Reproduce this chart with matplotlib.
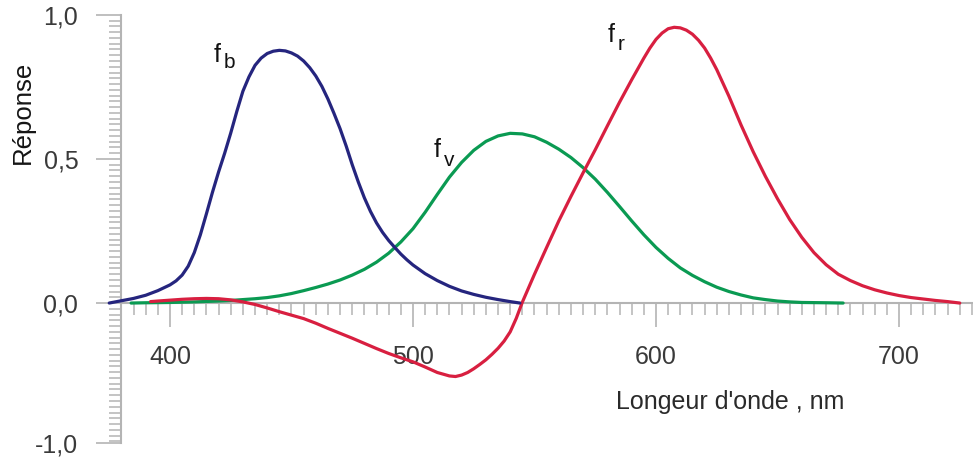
import numpy as np
import matplotlib
matplotlib.use("Agg")
from matplotlib import pyplot as plt
from matplotlib.ticker import FixedLocator, FixedFormatter

plt.rcParams['font.family'] = ['Liberation Sans', 'DejaVu Sans']

# courbe bleue f_b
wl_b = [375, 380, 385, 390, 395, 400, 402.5, 405, 407.5, 410, 412.5, 415,
        417.5, 420, 422.5, 425, 427.5, 430, 432.5, 435, 437.5, 440, 442.5,
        445, 447.5, 450, 452.5, 455, 457.5, 460, 462.5, 465, 467.5, 470,
        472.5, 475, 477.5, 480, 482.5, 485, 487.5, 490, 492.5, 495, 497.5,
        500, 505, 510, 515, 520, 525, 530, 535, 540, 544]
f_b = [0.0, 0.008, 0.016, 0.027, 0.043, 0.063, 0.077, 0.097, 0.128, 0.175, 0.237,
       0.31, 0.385, 0.455, 0.52, 0.59, 0.665, 0.735, 0.785, 0.825, 0.85, 0.866,
       0.874, 0.877, 0.875, 0.868, 0.857, 0.84, 0.817, 0.788, 0.752, 0.708,
       0.658, 0.605, 0.545, 0.48, 0.42, 0.365, 0.318, 0.278, 0.245, 0.217,
       0.193, 0.17, 0.15, 0.132, 0.102, 0.078, 0.058, 0.042, 0.03, 0.02, 0.012,
       0.005, 0.0]

# courbe verte f_v
wl_v = [384, 390, 400, 410, 420, 425, 430, 435, 440, 445, 450, 455, 460, 465,
        470, 475, 480, 485, 490, 495, 500, 505, 510, 515, 520, 525, 530, 535,
        540, 545, 550, 555, 560, 565, 570, 575, 580, 585, 590, 595, 600, 605,
        610, 615, 620, 625, 630, 635, 640, 645, 650, 655, 660, 670, 677]
f_v = [0.0, 0.001, 0.002, 0.004, 0.007, 0.009, 0.012, 0.015, 0.019, 0.025,
       0.033, 0.043, 0.054, 0.066, 0.08, 0.097, 0.117, 0.142, 0.173, 0.212,
       0.258, 0.315, 0.377, 0.437, 0.488, 0.53, 0.561, 0.58, 0.589, 0.587,
       0.577, 0.558, 0.534, 0.505, 0.47, 0.43, 0.384, 0.335, 0.285, 0.237,
       0.193, 0.155, 0.122, 0.096, 0.074, 0.055, 0.04, 0.028, 0.018, 0.012,
       0.007, 0.004, 0.002, 0.001, 0.0]

# courbe rouge f_r
wl_r = [392, 395, 400, 405, 410, 415, 420, 425, 430, 435, 440, 445, 450, 455,
        460, 465, 470, 475, 480, 485, 490, 495, 500, 505, 510, 515, 517.5, 520,
        522.5, 525, 527.5, 530, 532.5, 535, 537.5, 540, 542.5, 545, 550, 555,
        560, 565, 570, 575, 580, 585, 590, 595, 597.5, 600, 602.5, 605, 607.5,
        610, 612.5, 615, 617.5, 620, 622.5, 625, 630, 635, 640, 645, 650, 655,
        660, 665, 670, 675, 680, 685, 690, 695, 700, 705, 710, 715, 720, 725]
f_r = [0.005, 0.007, 0.01, 0.013, 0.015, 0.016, 0.015, 0.011, 0.004, -0.005,
       -0.017, -0.03, -0.042, -0.054, -0.07, -0.088, -0.105, -0.122, -0.14,
       -0.158, -0.175, -0.19, -0.204, -0.222, -0.241, -0.253, -0.255, -0.25,
       -0.241, -0.228, -0.213, -0.197, -0.178, -0.157, -0.132, -0.1, -0.053,
       0.003, 0.1, 0.193, 0.285, 0.37, 0.452, 0.532, 0.615, 0.697, 0.775, 0.85,
       0.885, 0.915, 0.937, 0.952, 0.957, 0.955, 0.947, 0.933, 0.912, 0.885,
       0.85, 0.81, 0.718, 0.618, 0.525, 0.44, 0.362, 0.29, 0.228, 0.175, 0.133,
       0.1, 0.078, 0.06, 0.046, 0.035, 0.026, 0.019, 0.014, 0.009, 0.005, 0.0]

y_ticks = [1.0, 0.5, 0.0, -0.485]
y_labels = ['1,0', '0,5', '0,0', '-1,0']
x_ticks = [400, 500, 600, 700]

W, H = 973, 463
fig = plt.figure(figsize=(W / 100, H / 100), dpi=100)
ax = fig.add_axes([100 / W, 13 / H, 873 / W, 440 / H])
ax.set_xlim(371.2, 730.45)
ax.set_ylim(-0.51, 1.017)

ax.plot(wl_v, f_v, color='#0a9a52', lw=2.3, solid_capstyle='round')
ax.plot(wl_r, f_r, color='#d81f40', lw=2.3, solid_capstyle='round')
ax.plot(wl_b, f_b, color='#25257e', lw=2.3, solid_capstyle='round')

grey = '#b4b4b4'
for s in ['top', 'right']:
    ax.spines[s].set_visible(False)
ax.spines['left'].set_position(('data', 380))
ax.spines['left'].set_bounds(-0.485, 1.0)
ax.spines['bottom'].set_position(('data', 0))
ax.spines['bottom'].set_bounds(380, 730.45)
for s in ['left', 'bottom']:
    ax.spines[s].set_color(grey)
    ax.spines[s].set_linewidth(1.5)
    ax.spines[s].set_zorder(0)

ax.yaxis.set_major_locator(FixedLocator(y_ticks))
ax.yaxis.set_major_formatter(FixedFormatter(y_labels))
ax.yaxis.set_minor_locator(FixedLocator(np.arange(-0.48, 1.001, 0.02)))
ax.xaxis.set_major_locator(FixedLocator(x_ticks))
ax.xaxis.set_minor_locator(FixedLocator(np.arange(380, 731, 5)))

ax.tick_params(axis='y', which='major', direction='out', length=18, width=1.2,
               color=grey, pad=13, labelsize=18, labelcolor='#3a3a3a')
ax.tick_params(axis='y', which='minor', direction='out', length=9, width=1.1,
               color=grey)
ax.tick_params(axis='x', which='major', direction='out', length=17, width=1.2,
               color=grey, pad=13, labelsize=18, labelcolor='#3a3a3a')
ax.tick_params(axis='x', which='minor', direction='out', length=8.5, width=1.1,
               color=grey)


def px(x, y):
    return x / W, 1 - y / H


fig.text(*px(23, 112), 'Réponse', rotation=90, fontsize=18.5, color='#151515',
         ha='center', va='center')
fig.text(*px(730, 402), "Longeur d'onde , nm", fontsize=18, color='#2a2a2a',
         ha='center', va='center')

for fx, fy, sx, sy, sub in [(217, 55, 229, 63, 'b'), (437, 150, 449, 161, 'v'),
                            (611, 35, 621, 45, 'r')]:
    fig.text(*px(fx, fy), 'f', fontsize=18, color='#111111', ha='center', va='center')
    fig.text(*px(sx, sy), sub, fontsize=15, color='#111111', ha='center', va='center')

fig.savefig('out.png', dpi=100)
